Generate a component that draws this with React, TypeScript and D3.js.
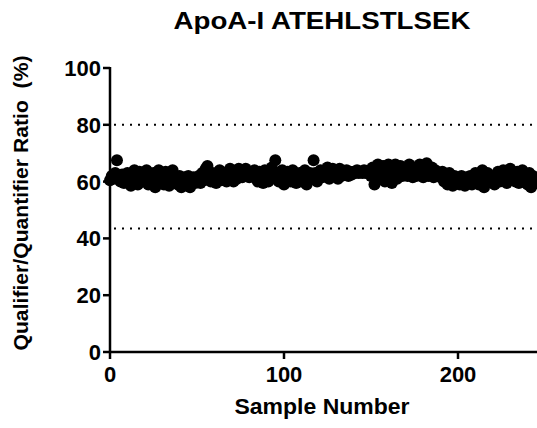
import React from "react";
import * as d3 from "d3";

const ratioValues: number[] = [
  60.5, 62, 61, 63, 67.5, 61, 60, 62.5, 59.5, 61,
  63, 60, 58.5, 62, 64, 61, 59, 63.5, 60, 62,
  61, 64, 59, 62.5, 60, 63, 58, 61.5, 64, 60,
  62, 59, 63.5, 61, 58.5, 62, 64, 60, 61, 59,
  62, 58, 60.5, 61.5, 59, 62, 58, 60, 61.5, 59.5,
  61, 62, 59.5, 63, 60.5, 64.5, 65.5, 62, 60, 63,
  61, 59.5, 62.5, 64, 60.5, 61.5, 63, 60, 62, 64.5,
  62, 60, 63, 61, 64.5, 62, 61.5, 63, 64.5, 62,
  61.5, 63, 62, 64, 61, 60, 63.5, 62, 59.5, 64,
  61, 60, 63, 65, 62, 67.5, 63, 60, 61.5, 64,
  59, 62, 63.5, 61, 60, 64, 62.5, 59.5, 61, 63,
  60, 62, 64, 59, 61.5, 63, 61, 67.5, 63, 60,
  62.5, 64, 61.5, 63, 62, 65, 61, 63.5, 64.5, 62,
  63, 61, 64.5, 62, 63, 62.5, 64, 62, 63.5, 62.5,
  63.5, 63, 64, 63, 63.5, 63, 64, 63, 63.5, 64,
  62, 65, 59, 63, 66, 61, 64, 65.5, 60, 63,
  66, 62, 59.5, 64, 66, 61, 63, 65.5, 62, 64,
  65, 62, 66, 63, 61.5, 65, 62, 64, 66, 63,
  61.5, 64, 66.5, 62, 63, 65, 61.5, 64, 62, 63,
  61.5, 63.5, 60, 62, 59, 63, 61, 58.5, 62, 60,
  61, 59, 62, 60, 58.5, 61.5, 60, 62, 59, 61,
  63, 60, 59, 62, 64, 58, 61, 63, 60, 62,
  61, 59, 62, 63.5, 60, 61, 64, 62, 59.5, 63,
  64.5, 61, 62, 60, 63.5, 59.5, 61, 64, 60, 62,
  59, 63, 58, 62, 60,
];

const xTicks: number[] = [0, 100, 200];
const yTicks: number[] = [0, 20, 40, 60, 80, 100];
const limitLines: number[] = [80, 43.5];

const titleText = "ApoA-I ATEHLSTLSEK";
const xLabel = "Sample Number";
const yLabel = "Qualifier/Quantifier Ratio  (%)";

export default function App() {
  const W = 537;
  const H = 428;
  const left = 110;
  const right = 537;
  const top = 68;
  const bottom = 352;

  const x = d3.scaleLinear().domain([0, 245]).range([left, left + 245 * 1.74]);
  const y = d3.scaleLinear().domain([0, 100]).range([bottom, top]);

  const font = "'Liberation Sans', Arial, sans-serif";

  return (
    <svg
      width={W}
      height={H}
      style={{ position: "absolute", left: 0, top: 0, background: "#fff" }}
      fontFamily={font}
    >
      <rect width={W} height={H} fill="#fff" />
      <text x={322} y={29} textAnchor="middle" fontWeight="bold" fontSize={23} textLength={297} lengthAdjust="spacingAndGlyphs">
        {titleText}
      </text>

      {limitLines.map((v) => (
        <line key={v} x1={left + 4} x2={right} y1={y(v)} y2={y(v)} stroke="#000" strokeWidth={2} strokeDasharray="2,6" />
      ))}

      {ratioValues.map((v, i) => (
        <circle key={i} cx={x(i)} cy={y(v)} r={6} fill="#000" />
      ))}

      {/* y axis */}
      <line x1={left} x2={left} y1={top - 1} y2={bottom + 1} stroke="#000" strokeWidth={2.5} />
      {yTicks.map((t) => (
        <g key={t}>
          <line x1={left - 7} x2={left} y1={y(t)} y2={y(t)} stroke="#000" strokeWidth={2.5} />
          <text x={left - 9} y={y(t)} dy="0.36em" textAnchor="end" fontWeight="bold" fontSize={22}>
            {t}
          </text>
        </g>
      ))}

      {/* x axis */}
      <line x1={left - 1} x2={right} y1={bottom} y2={bottom} stroke="#000" strokeWidth={2.5} />
      {xTicks.map((t) => (
        <g key={t}>
          <line x1={x(t)} x2={x(t)} y1={bottom} y2={bottom + 7} stroke="#000" strokeWidth={2.5} />
          <text x={x(t)} y={382} textAnchor="middle" fontWeight="bold" fontSize={22}>
            {t}
          </text>
        </g>
      ))}

      <text x={322} y={414} textAnchor="middle" fontWeight="bold" fontSize={22} textLength={175} lengthAdjust="spacingAndGlyphs">
        {xLabel}
      </text>
      <text
        transform={`translate(28, 203) rotate(-90)`}
        textAnchor="middle"
        fontWeight="bold"
        fontSize={21}
        textLength={295}
        lengthAdjust="spacingAndGlyphs"
        style={{ whiteSpace: "pre" }}
      >
        {yLabel}
      </text>
    </svg>
  );
}
